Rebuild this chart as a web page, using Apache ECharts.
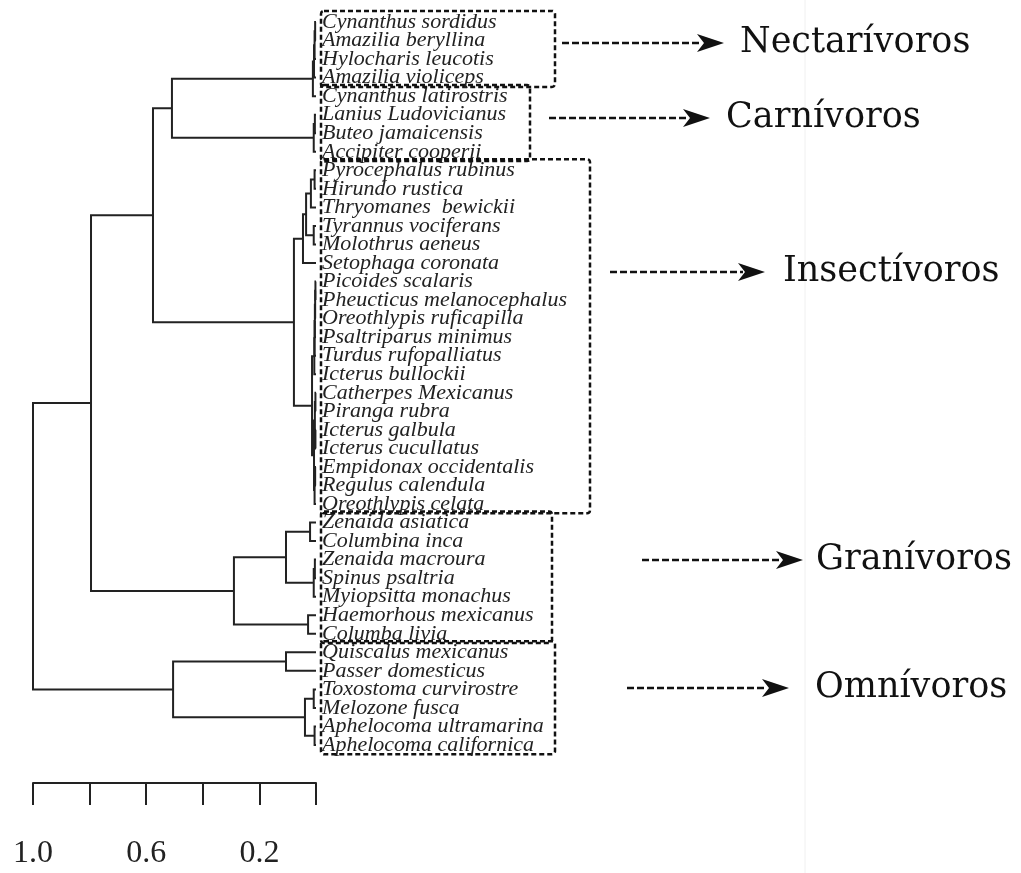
<!DOCTYPE html>
<html>
<head>
<meta charset="utf-8">
<script src="https://cdn.jsdelivr.net/npm/echarts@6/dist/echarts.min.js"></script>
<style>
  html, body { margin: 0; padding: 0; background: #fff; }
  #main { width: 1021px; height: 873px; }
</style>
</head>
<body>
<div id="main"></div>
<script>
// leaves, top to bottom
var species = [
  'Cynanthus sordidus', 'Amazilia beryllina', 'Hylocharis leucotis', 'Amazilia violiceps',
  'Cynanthus latirostris', 'Lanius Ludovicianus', 'Buteo jamaicensis', 'Accipiter cooperii',
  'Pyrocephalus rubinus', 'Hirundo rustica', 'Thryomanes  bewickii', 'Tyrannus vociferans',
  'Molothrus aeneus', 'Setophaga coronata', 'Picoides scalaris', 'Pheucticus melanocephalus',
  'Oreothlypis ruficapilla', 'Psaltriparus minimus', 'Turdus rufopalliatus', 'Icterus bullockii',
  'Catherpes Mexicanus', 'Piranga rubra', 'Icterus galbula', 'Icterus cucullatus',
  'Empidonax occidentalis', 'Regulus calendula', 'Oreothlypis celata', 'Zenaida asiatica',
  'Columbina inca', 'Zenaida macroura', 'Spinus psaltria', 'Myiopsitta monachus',
  'Haemorhous mexicanus', 'Columba livia', 'Quiscalus mexicanus', 'Passer domesticus',
  'Toxostoma curvirostre', 'Melozone fusca', 'Aphelocoma ultramarina', 'Aphelocoma californica'
];

// hclust-style merges: negative = leaf (1-based), positive = earlier merge (1-based)
var mergeLeft = [-1, 1, 2, 3, -6, 5, 4, -9, 8, -12, 9, 11, -15, 13, 14, 15, 16, -21, -23, 18,
  -25, 21, 20, 17, 12, 7, -28, -30, 28, 27, -33, 30, 26, -35, -37, -39, 35, 34, 33];
var mergeRight = [-2, -3, -4, -5, -7, -8, 6, -10, -11, -13, 10, -14, -16, -17, -18, -19, -20, -22, -24, 19,
  -26, -27, 22, 23, 24, 25, -29, -31, -32, 29, -34, 31, 32, -36, -38, -40, 36, 37, 38];
var mergeHeight = [0.003, 0.005, 0.007, 0.011, 0.004, 0.008, 0.509, 0.005, 0.018, 0.008, 0.035, 0.046,
  0.002, 0.003, 0.004, 0.005, 0.006, 0.002, 0.002, 0.004, 0.003, 0.005, 0.007, 0.014, 0.078, 0.576,
  0.021, 0.004, 0.008, 0.106, 0.028, 0.29, 0.795, 0.106, 0.008, 0.005, 0.039, 0.505, 1.0];

var axisShown = ['1.0', '0.6', '0.2'];

var groupNames = ['Nectarívoros', 'Carnívoros', 'Insectívoros', 'Granívoros', 'Omnívoros'];
var groupFirst = [0, 4, 8, 27, 34];
var groupLast = [3, 7, 26, 33, 39];

// annotation layout (pixels)
var boxRight = [555, 530, 590, 552, 555];
var arrowFrom = [562, 549, 610, 642, 627];
var arrowTo = [724, 710, 765, 803, 789];
var arrowY = [43, 118, 272, 560, 688];
var labelX = [740, 726, 783, 816, 815];

// y of every merge = midpoint of its children
var mergeY = [];
function nodeY(ref) { return ref < 0 ? -ref - 1 : mergeY[ref - 1]; }
function nodeH(ref) { return ref < 0 ? 0 : mergeHeight[ref - 1]; }
var segs = [];
for (var i = 0; i < mergeHeight.length; i++) {
  var ya = nodeY(mergeLeft[i]), yb = nodeY(mergeRight[i]);
  mergeY.push((ya + yb) / 2);
  segs.push([nodeH(mergeLeft[i]), ya, mergeHeight[i], yb, nodeH(mergeRight[i])]);
}

var chart = echarts.init(document.getElementById('main'));
chart.setOption({
  backgroundColor: '#fff',
  animation: false,
  grid: { left: 33, top: 22, width: 283, height: 723, outerBoundsMode: 'none' },
  xAxis: {
    type: 'value', min: 0, max: 1, interval: 0.2, inverse: true,
    position: 'bottom', offset: 38,
    splitLine: { show: false },
    axisLine: { show: true, onZero: false, lineStyle: { color: '#222', width: 2 } },
    axisTick: { show: true, length: 22, lineStyle: { color: '#222', width: 2 } },
    axisLabel: {
      margin: 55, fontFamily: 'Liberation Serif', fontSize: 32, color: '#222',
      formatter: function (v) {
        var s = v.toFixed(1);
        return axisShown.indexOf(s) >= 0 ? s : '';
      }
    }
  },
  yAxis: {
    type: 'value', min: 0, max: species.length - 1, inverse: true,
    show: false
  },
  series: [{
    type: 'custom',
    clip: false,
    data: segs,
    encode: { x: [0, 2, 4], y: [1, 3] },
    renderItem: function (params, api) {
      var a = api.coord([api.value(0), api.value(1)]);
      var n1 = api.coord([api.value(2), api.value(1)]);
      var n2 = api.coord([api.value(2), api.value(3)]);
      var b = api.coord([api.value(4), api.value(3)]);
      return {
        type: 'polyline',
        shape: { points: [a, n1, n2, b] },
        style: { stroke: '#222', lineWidth: 2, fill: null }
      };
    }
  }, {
    // leaf names
    type: 'scatter',
    symbolSize: 0,
    silent: true,
    itemStyle: { opacity: 1 },
    data: species.map(function (s, k) { return [0, k, s]; }),
    label: {
      show: true, position: 'right', distance: 6,
      fontFamily: 'Liberation Serif', fontStyle: 'italic', fontSize: 22, color: '#222',
      formatter: function (p) { return p.value[2]; }
    }
  }]
});

// dashed boxes, arrows and group names
var graphics = [{
  type: 'line', silent: true,
  shape: { x1: 805, y1: 0, x2: 805, y2: 873 },
  style: { stroke: '#f0f0f0', lineWidth: 1 }
}];
var leftX = chart.convertToPixel({ gridIndex: 0 }, [0, 0])[0] + 5;
groupNames.forEach(function (name, k) {
  var top = chart.convertToPixel({ gridIndex: 0 }, [0, groupFirst[k] - 0.6])[1];
  var bottom = chart.convertToPixel({ gridIndex: 0 }, [0, groupLast[k] + 0.5])[1];
  graphics.push({
    type: 'rect', silent: true,
    shape: { x: leftX, y: top, width: boxRight[k] - leftX, height: bottom - top, r: 3 },
    style: { fill: null, stroke: '#111', lineWidth: 2.5, lineDash: [5, 3] }
  });
  var y = arrowY[k], tip = arrowTo[k];
  graphics.push({
    type: 'line', silent: true,
    shape: { x1: arrowFrom[k], y1: y, x2: tip - 22, y2: y },
    style: { stroke: '#111', lineWidth: 2.5, lineDash: [7, 3] }
  });
  graphics.push({
    type: 'polygon', silent: true,
    shape: { points: [[tip, y], [tip - 27, y - 9], [tip - 20, y], [tip - 27, y + 9]] },
    style: { fill: '#111' }
  });
  graphics.push({
    type: 'text', silent: true,
    style: {
      x: labelX[k], y: y, text: name, fill: '#111',
      font: '35px "DejaVu Serif"', textVerticalAlign: 'middle', verticalAlign: 'middle'
    }
  });
});
chart.setOption({ graphic: graphics });
</script>
</body>
</html>
